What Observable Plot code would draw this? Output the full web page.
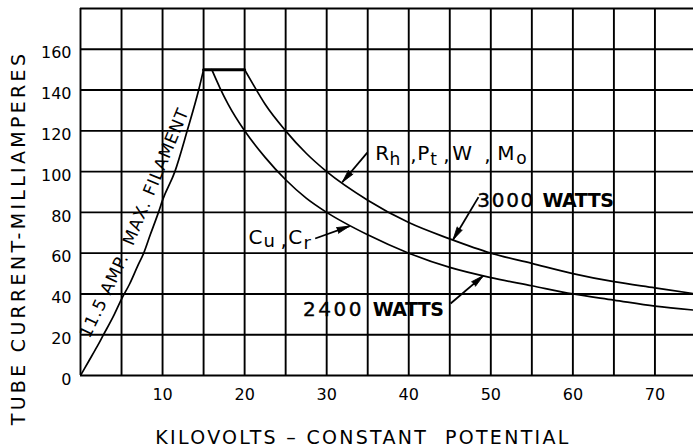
<!DOCTYPE html>
<html><head><meta charset="utf-8">
<script src="https://cdn.jsdelivr.net/npm/d3@7"></script>
<script src="https://cdn.jsdelivr.net/npm/@observablehq/plot@0.6"></script>
<style>body{margin:0;background:#fff} #chart svg{display:block}</style>
</head><body><div id="chart"></div>
<script>
// Filament-limited curve (11.5 amp max filament)
const filamentKV = [0, 1, 2, 2.8, 4, 5, 6, 7, 7.7, 8.5, 9.5, 10, 11.5, 13, 14.4, 15];
const filamentMA = [0, 7, 14, 20, 29, 37.5, 45, 54, 60, 69, 80, 86, 100, 120, 140, 150];
// Flat maximum-current segment
const flatKV = [15, 20];
const flatMA = [150, 150];
// 2400 watt curve (Cu, Cr)
const w2400KV = [16, 17, 18, 20, 22.5, 25, 27.5, 30, 35, 40, 45, 50, 55, 60, 65, 70, 75];
const w2400MA = [150, 141, 133, 120, 107, 96, 87, 80, 69, 60, 53, 48, 44, 40, 37, 34, 32];
// 3000 watt curve (Rh, Pt, W, Mo)
const w3000KV = [20, 21, 22.5, 25, 27.5, 30, 35, 40, 45, 50, 55, 60, 65, 70, 75];
const w3000MA = [150, 143, 133, 120, 109, 100, 86, 75, 67, 60, 55, 50, 46, 43, 40];
// Tick labels
const xTickLabels = [10, 20, 30, 40, 50, 60, 70];
const yTickLabels = [0, 20, 40, 60, 80, 100, 120, 140, 160];
const xGrid = [0, 5, 10, 15, 20, 25, 30, 35, 40, 45, 50, 55, 60, 65, 70, 75];
const yGrid = [0, 20, 40, 60, 80, 100, 120, 140, 160, 180];
const xTitle = "KILOVOLTS – CONSTANT  POTENTIAL";
const yTitle = "TUBE CURRENT-MILLIAMPERES";

const toRows = (xs, ys) => xs.map((x, i) => ({x, y: ys[i]}));

// annotation pieces (label text with subscripts)
const rhLabel = [
  {t: "R", x: 35.93, y: 105.9, s: 20}, {t: "h", x: 37.64, y: 103.0, s: 17},
  {t: ",", x: 40.19, y: 104.9, s: 20}, {t: "P", x: 41.05, y: 105.9, s: 20},
  {t: "t", x: 42.63, y: 103.0, s: 17}, {t: ",", x: 44.21, y: 104.9, s: 20},
  {t: "W", x: 45.31, y: 105.9, s: 20}, {t: ",", x: 49.21, y: 104.9, s: 20},
  {t: "M", x: 50.79, y: 105.9, s: 20}, {t: "o", x: 53.11, y: 103.5, s: 17}
];
const cuLabel = [
  {t: "C", x: 20.46, y: 64.7, s: 20}, {t: "u", x: 22.29, y: 62.8, s: 18},
  {t: ",", x: 24.36, y: 62.8, s: 20}, {t: "C", x: 25.33, y: 64.7, s: 20},
  {t: "r", x: 27.16, y: 61.8, s: 18}
];
const wattNumbers = [
  {t: "3000", x: 48.36, y: 82.4},
  {t: "2400", x: 27.1, y: 29.4}
];
const wattWords = [
  {t: "WATTS", x: 56.3, y: 82.4},
  {t: "WATTS", x: 35.6, y: 29.4}
];
const filamentLabels = [
  {t: "11.5 AMP.", x: 2.9, y: 39.2, r: -64.5},
  {t: "MAX. FILAMENT", x: 9.2, y: 97.5, r: -67.5}
];
const arrows = [
  {x1: 34.95, y1: 109.3, x2: 31.9, y2: 94.8},
  {x1: 48.5, y1: 87.5, x2: 45.4, y2: 66.6},
  {x1: 28.6, y1: 67.2, x2: 32.8, y2: 73.3},
  {x1: 45.1, y1: 35.3, x2: 49.1, y2: 49.0}
];
// screen direction of each arrow (px per kV, px per mA) for the filled heads
const pxPerKV = 613 / 74.7, pxPerMA = 367 / 180;
const headAngle = d => Math.atan2((d.x2 - d.x1) * pxPerKV, (d.y2 - d.y1) * pxPerMA) * 180 / Math.PI;

const chart = Plot.plot({
  width: 693,
  height: 448,
  marginLeft: 80,
  marginRight: 0,
  marginTop: 8,
  marginBottom: 73,
  style: {fontFamily: "DejaVu Sans", color: "black", background: "white"},
  x: {domain: [0, 74.7]},
  y: {domain: [0, 180]},
  marks: [
    Plot.gridX(xGrid, {stroke: "black", strokeOpacity: 1, strokeWidth: 1.9}),
    Plot.gridY(yGrid, {stroke: "black", strokeOpacity: 1, strokeWidth: 1.9}),
    Plot.axisX(xTickLabels, {tickSize: 0, tickPadding: 13, fontSize: 16, tickFormat: d => d, label: null}),
    Plot.axisY(yTickLabels, {tickSize: 0, tickPadding: 9, fontSize: 16, dy: 4, tickFormat: d => d, label: null}),
    Plot.line(toRows(filamentKV, filamentMA), {x: "x", y: "y", stroke: "black", strokeWidth: 1.7, curve: "monotone-x", clip: true}),
    Plot.line(toRows(flatKV, flatMA), {x: "x", y: "y", stroke: "black", strokeWidth: 3}),
    Plot.line(toRows(w2400KV, w2400MA), {x: "x", y: "y", stroke: "black", strokeWidth: 1.7, curve: "monotone-x", clip: true}),
    Plot.line(toRows(w3000KV, w3000MA), {x: "x", y: "y", stroke: "black", strokeWidth: 1.7, curve: "monotone-x", clip: true}),
    Plot.link(arrows, {x1: "x1", y1: "y1", x2: "x2", y2: "y2", stroke: "black", strokeWidth: 1.8}),
    Plot.vector(arrows, {x: "x2", y: "y2", rotate: headAngle, length: 13, r: 3, shape: "spike", anchor: "end", fill: "black", stroke: "black", strokeWidth: 0.8}),
    Plot.text(rhLabel, {x: "x", y: "y", text: "t", fontSize: "s", textAnchor: "start", lineAnchor: "bottom", fill: "black"}),
    Plot.text(cuLabel, {x: "x", y: "y", text: "t", fontSize: "s", textAnchor: "start", lineAnchor: "bottom", fill: "black"}),
    Plot.text(wattNumbers, {x: "x", y: "y", text: "t", fontSize: 20, textAnchor: "start", lineAnchor: "bottom", fill: "black", stroke: "black", strokeWidth: 0.4}),
    Plot.text(wattWords, {x: "x", y: "y", text: "t", fontSize: 19, fontWeight: "bold", textAnchor: "start", lineAnchor: "bottom", fill: "black"}),
    Plot.text(filamentLabels, {x: "x", y: "y", text: "t", rotate: "r", fontSize: 17, textAnchor: "middle", lineAnchor: "middle", fill: "black"}),
    Plot.text([xTitle], {frameAnchor: "bottom", dx: -24, dy: 62, text: d => d, fontSize: 19, textAnchor: "middle", lineAnchor: "middle", fill: "black"}),
    Plot.text([yTitle], {frameAnchor: "left", dx: -62, dy: 46, rotate: -90, text: d => d, fontSize: 19, textAnchor: "middle", lineAnchor: "middle", fill: "black"})
  ]
});
document.getElementById("chart").append(chart);

// letter spacing to imitate the wide drafting lettering
d3.select(chart).selectAll("text").each(function() {
  const t = this.textContent;
  if (t === xTitle) this.setAttribute("letter-spacing", "2.3");
  else if (t === yTitle) this.setAttribute("letter-spacing", "3.3");
  else if (t === "3000") this.setAttribute("letter-spacing", "1.7");
  else if (t === "2400") this.setAttribute("letter-spacing", "2.6");
  else if (t === "WATTS") this.setAttribute("letter-spacing", "-0.5");
  else if (t === "11.5 AMP." || t === "MAX. FILAMENT") this.setAttribute("letter-spacing", "1");
});
</script></body></html>
